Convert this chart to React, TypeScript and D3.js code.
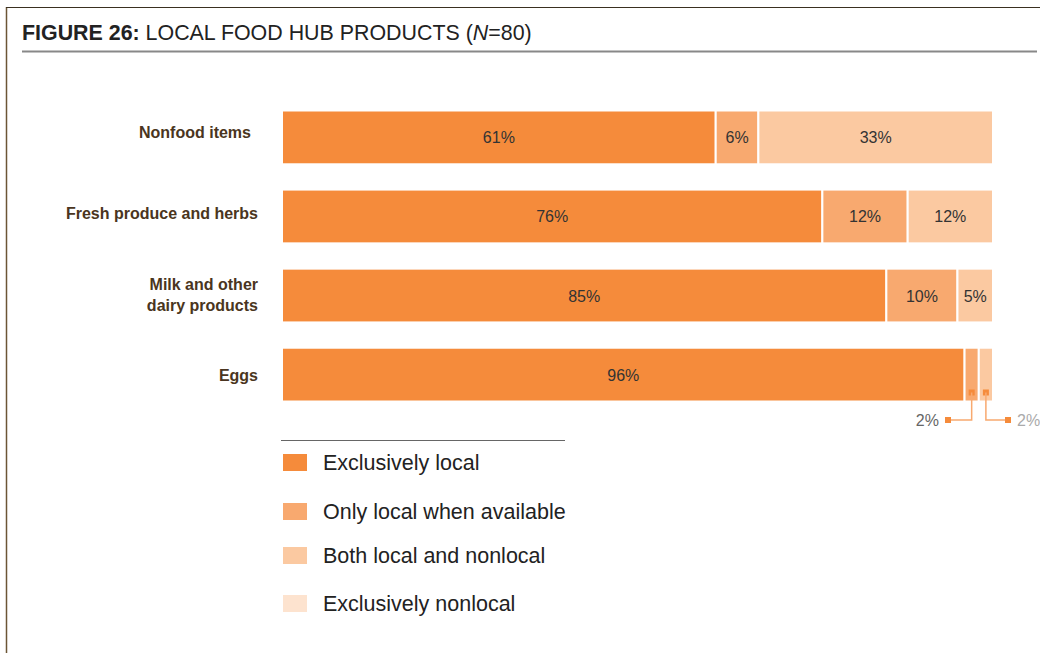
import * as d3 from 'd3';

const categories = [
  ['Nonfood items'],
  ['Fresh produce and herbs'],
  ['Milk and other', 'dairy products'],
  ['Eggs'],
];
const seriesNames = [
  'Exclusively local',
  'Only local when available',
  'Both local and nonlocal',
  'Exclusively nonlocal',
];
const exclusivelyLocal = [61, 76, 85, 96];
const onlyLocalWhenAvailable = [6, 12, 10, 2];
const bothLocalAndNonlocal = [33, 12, 5, 2];
const exclusivelyNonlocal = [0, 0, 0, 0];

const colors = ['#f58b3b', '#f8a96f', '#fbc9a1', '#fde3cf'];

const W = 1040;
const H = 653;
const FONT = '"Liberation Sans", Arial, sans-serif';

export default function App() {
  const series = [exclusivelyLocal, onlyLocalWhenAvailable, bothLocalAndNonlocal, exclusivelyNonlocal];
  const rows = categories.map((c, i) => series.map((s) => s[i]));

  const x = d3.scaleLinear().domain([0, 100]).range([282, 993]);
  const y = d3
    .scaleBand<number>()
    .domain(d3.range(categories.length))
    .range([110.5, 401.5])
    .paddingInner(0.32)
    .paddingOuter(0);

  const legendY = d3.scalePoint<number>().domain(d3.range(seriesNames.length)).range([462, 603]);
  const legendTweak = [0, 2, -1, 0];

  return (
    <svg
      width={W}
      height={H}
      style={{ position: 'absolute', left: 0, top: 0, background: '#fff' }}
      fontFamily={FONT}
    >
      <line x1={6.5} x2={6.5} y1={7} y2={H} stroke="#6b5535" strokeWidth={1.5} />
      <line x1={6} x2={W} y1={7.5} y2={7.5} stroke="#3a3020" strokeWidth={1.2} />
      <text x={22} y={40} fontSize={21.4} fill="#222">
        <tspan fontWeight="bold">FIGURE 26:</tspan>
        <tspan> LOCAL FOOD HUB PRODUCTS (</tspan>
        <tspan fontStyle="italic">N</tspan>
        <tspan>=80)</tspan>
      </text>
      <line x1={22} x2={1037} y1={51.5} y2={51.5} stroke="#888" strokeWidth={2} />

      {categories.map((lines, i) => {
        const cy = (y(i) ?? 0) + y.bandwidth() / 2;
        const xEnd = i === 0 ? 251 : 258;
        const offset = i === 0 ? -4 : i === 1 ? -2 : i === 3 ? 1 : 0;
        return (
          <text
            key={i}
            x={xEnd}
            textAnchor="end"
            fontSize={16}
            fontWeight="bold"
            fill="#4a3520"
          >
            {lines.map((l, j) => (
              <tspan
                key={j}
                x={xEnd}
                y={cy + offset + 5 + (j - (lines.length - 1) / 2) * 21}
              >
                {l}
              </tspan>
            ))}
          </text>
        );
      })}

      {rows.map((vals, i) => {
        let acc = 0;
        const top = y(i) ?? 0;
        const bh = y.bandwidth();
        return (
          <g key={i}>
            {vals.map((v, k) => {
              const x0 = x(acc);
              acc += v;
              const x1 = x(acc);
              if (v <= 0) return null;
              const cx = (x0 + x1) / 2;
              const small = v < 4;
              const side = k === 1 ? -1 : 1;
              const sqY = top + bh - 9;
              const lineY = 420;
              const endX = side < 0 ? 948 : 1008;
              return (
                <g key={k}>
                  <rect
                    x={x0}
                    y={top}
                    width={x1 - x0}
                    height={bh}
                    fill={colors[k]}
                    stroke="#fff"
                    strokeWidth={2}
                  />
                  {!small && (
                    <text x={cx} y={top + bh / 2 + 6} textAnchor="middle" fontSize={16} fill="#333">
                      {v}%
                    </text>
                  )}
                  {small && (
                    <g>
                      <rect x={cx - 3} y={sqY - 3} width={6} height={6} fill={colors[0]} />
                      <path
                        d={`M${cx},${sqY} V${lineY} H${endX}`}
                        fill="none"
                        stroke={colors[1]}
                        strokeWidth={1.5}
                      />
                      <rect x={endX - 3} y={lineY - 3} width={6} height={6} fill={colors[0]} />
                      <text
                        x={endX + side * 9}
                        y={lineY + 6}
                        textAnchor={side < 0 ? 'end' : 'start'}
                        fontSize={16}
                        fill={side < 0 ? '#666' : '#aaa'}
                      >
                        {v}%
                      </text>
                    </g>
                  )}
                </g>
              );
            })}
          </g>
        );
      })}

      <line x1={281} x2={565} y1={440.5} y2={440.5} stroke="#666" strokeWidth={1} />
      {seriesNames.map((name, k) => {
        const cy = (legendY(k) ?? 0) + legendTweak[k];
        return (
          <g key={name}>
            <rect x={283} y={cy - 8} width={24} height={17} fill={colors[k]} />
            <text x={323} y={cy + 8} fontSize={21.5} fill="#222">
              {name}
            </text>
          </g>
        );
      })}
    </svg>
  );
}
